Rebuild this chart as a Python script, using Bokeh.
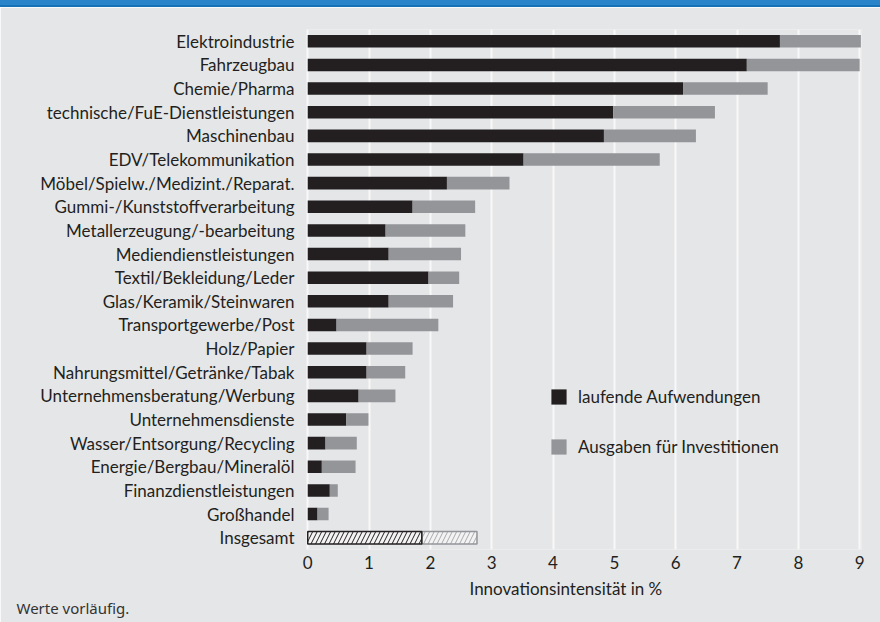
from bokeh.plotting import figure
from bokeh.layouts import column
from bokeh.models import (ColumnDataSource, FactorRange, Range1d, Legend, LegendItem,
                          Title, FixedTicker, Div)
from bokeh.embed import file_html
from bokeh.resources import INLINE

# ---------------- data ----------------
categories = [
    "Elektroindustrie", "Fahrzeugbau", "Chemie/Pharma",
    "technische/FuE-Dienstleistungen", "Maschinenbau", "EDV/Telekommunikation",
    "Möbel/Spielw./Medizint./Reparat.", "Gummi-/Kunststoffverarbeitung",
    "Metallerzeugung/-bearbeitung", "Mediendienstleistungen",
    "Textil/Bekleidung/Leder", "Glas/Keramik/Steinwaren",
    "Transportgewerbe/Post", "Holz/Papier", "Nahrungsmittel/Getränke/Tabak",
    "Unternehmensberatung/Werbung", "Unternehmensdienste",
    "Wasser/Entsorgung/Recycling", "Energie/Bergbau/Mineralöl",
    "Finanzdienstleistungen", "Großhandel",
]
laufend = [7.70, 7.16, 6.12, 4.98, 4.83, 3.52, 2.27, 1.71, 1.27, 1.32, 1.97,
           1.32, 0.47, 0.96, 0.96, 0.83, 0.63, 0.29, 0.23, 0.36, 0.16]
investitionen = [1.32, 1.84, 1.38, 1.66, 1.50, 2.22, 1.02, 1.02, 1.30, 1.18, 0.50,
                 1.05, 1.66, 0.75, 0.63, 0.60, 0.36, 0.51, 0.55, 0.13, 0.18]
total_category = "Insgesamt"
total_laufend = 1.86
total_investitionen = 0.90
x_ticks = [0, 1, 2, 3, 4, 5, 6, 7, 8, 9]
series_names = ["laufende Aufwendungen", "Ausgaben für Investitionen"]
axis_title = "Innovationsintensität in %"
footnote = "Werte vorläufig."

# ---------------- styles ----------------
BG = "#e5e6e8"
DARK = "#231f20"
GREY = "#939598"
FONT = "Lato"
FS = "17px"
BAR_H = 0.53

factors = list(reversed(categories + [total_category]))

band = Div(text="", width=880, height=7, margin=0,
           styles={"background": "linear-gradient(#2a84ca 0%, #2a84ca 70%, #1572b8 70%, #1572b8 100%)"})

p = figure(width=880, height=615, output_backend="svg", toolbar_location=None,
           y_range=FactorRange(factors=factors),
           x_range=Range1d(-0.02, 9.03),
           min_border_left=306, min_border_right=19,
           min_border_top=22, min_border_bottom=73, margin=0)
p.background_fill_color = BG
p.border_fill_color = BG
p.outline_line_color = None

src = ColumnDataSource(dict(
    y=categories,
    l0=[0] * len(categories),
    l1=laufend,
    l2=[a + b for a, b in zip(laufend, investitionen)],
))
r_dark = p.hbar(y="y", left="l0", right="l1", height=BAR_H, source=src,
                fill_color=DARK, line_color=None)
r_grey = p.hbar(y="y", left="l1", right="l2", height=BAR_H, source=src,
                fill_color=GREY, line_color=None)

tsrc = ColumnDataSource(dict(
    y=[total_category], l0=[0], l1=[total_laufend],
    l2=[total_laufend + total_investitionen],
))
p.hbar(y="y", left="l1", right="l2", height=BAR_H, source=tsrc,
       fill_color="#f3f3f4", line_color=GREY, line_width=1.5,
       hatch_pattern="/", hatch_color="#a7a9ac", hatch_scale=9, hatch_weight=1)
p.hbar(y="y", left="l0", right="l1", height=BAR_H, source=tsrc,
       fill_color="#f3f3f4", line_color=DARK, line_width=1.5,
       hatch_pattern="/", hatch_color=DARK, hatch_scale=9, hatch_weight=1)

# axes
p.xaxis.ticker = FixedTicker(ticks=x_ticks)
for ax in (p.xaxis[0], p.yaxis[0]):
    ax.axis_line_color = None
    ax.major_tick_line_color = None
    ax.minor_tick_line_color = None
    ax.major_tick_out = 0
    ax.major_tick_in = 0
    ax.minor_tick_out = 0
    ax.major_label_text_font = FONT
    ax.major_label_text_font_size = FS
    ax.major_label_text_color = DARK
p.yaxis.major_label_standoff = 12
p.xaxis.major_label_standoff = 6

p.ygrid.grid_line_color = None
p.xgrid.grid_line_color = "#f8f8f9"
p.xgrid.grid_line_width = 2

# legend
legend = Legend(items=[LegendItem(label=series_names[0], renderers=[r_dark]),
                       LegendItem(label=series_names[1], renderers=[r_grey])],
                location=(243, 92), orientation="vertical")
legend.glyph_width = 19
legend.glyph_height = 19
legend.label_height = 19
legend.spacing = 29
legend.padding = 0
legend.margin = 0
legend.label_standoff = 10
legend.label_text_font = FONT
legend.label_text_font_size = FS
legend.label_text_color = DARK
legend.background_fill_alpha = 0
legend.border_line_color = None
p.add_layout(legend, "center")

# axis title and footnote as titles below the plot
p.add_layout(Title(text=axis_title, align="left", offset=163, standoff=8,
                   text_font=FONT, text_font_size=FS, text_color=DARK,
                   text_font_style="normal"), "below")
p.add_layout(Title(text=footnote, align="left", offset=-290, standoff=-10,
                   vertical_align="top",
                   text_font="Noto Sans", text_font_size="15px", text_color="#333333",
                   text_font_style="normal"), "below")

layout = column(band, p, spacing=0, margin=0)
open("out.html", "w").write(file_html(layout, INLINE))
